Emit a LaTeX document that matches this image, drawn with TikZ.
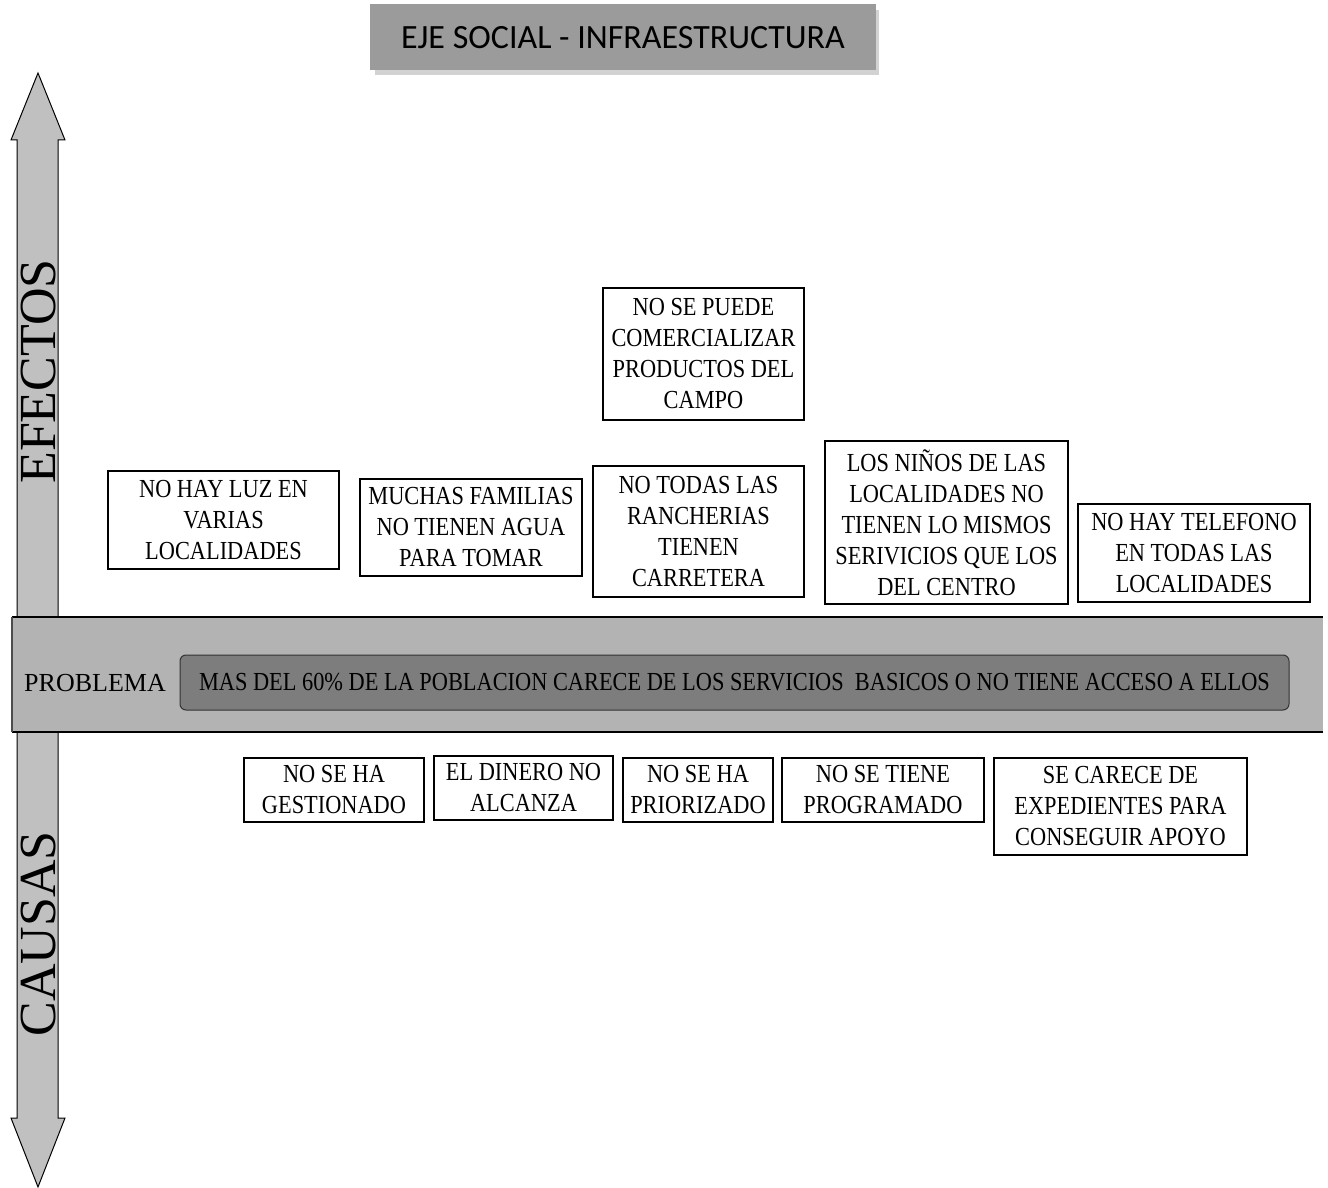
\documentclass[tikz,border=0pt]{standalone}
\usepackage{fontspec}
\setmainfont{Liberation Serif}
\newfontfamily\cajafont{Liberation Serif}[FakeStretch=0.86]
\newfontfamily\barrafont{Liberation Serif}[FakeStretch=0.86]
\newfontfamily\titulofont{Carlito}
\usetikzlibrary{positioning}
\definecolor{color1}{RGB}{155,155,155}
\definecolor{color2}{RGB}{192,192,192}
\definecolor{color3}{RGB}{179,179,179}
\definecolor{color4}{RGB}{125,125,125}
\tikzset{
  caja/.style={draw, line width=1.6pt, align=center, inner sep=0pt, font=\cajafont\fontsize{26}{31}\selectfont},
  eje/.style={rotate=90, inner sep=0pt, font=\fontsize{52}{52}\selectfont}
}
\begin{document}
\begin{tikzpicture}[x=1pt, y=-1pt, line join=miter]
                \useasboundingbox (0,0) rectangle (1328,1188);

                % titulo
                \fill [gray!35] (375,10) rectangle (879,75);
                \node[fill=color1, minimum width=506, minimum height=66, inner sep=0pt, font=\titulofont\fontsize{34}{40}\selectfont] (titulo) at (623,37.5) {EJE SOCIAL - INFRAESTRUCTURA};

                % flecha vertical
                \filldraw [fill=color2, draw=black, line width=1pt] (38,73) -- (65,140) -- (58,140) -- (58,1118) -- (65,1118) -- (38,1187) -- (11,1118) -- (17,1118) -- (17,140) -- (11,140) -- cycle;
                \node[eje] (efectos) at (38.5,371.5) {EFECTOS};
                \node[eje] (causas) at (38.5,934) {CAUSAS};

                % barra del problema
                \fill [color3] (12,617) rectangle (1323,732);
                \draw [line width=2pt] (12,617) -- (1323,617);
                \draw [line width=2pt] (12,732) -- (1323,732);
                \draw [gray!60!black, line width=1.5pt] (12,617) -- (12,732);
                \node[font=\fontsize{26}{30}\selectfont] (prob) at (95,683) {PROBLEMA};
                \node[draw=black!80, line width=1pt, fill=color4, rounded corners=6pt, minimum width=1109, minimum height=55, inner sep=0pt, font=\barrafont\fontsize{26}{30}\selectfont] (problema) at (734.5,682.5) {MAS DEL 60\% DE LA POBLACION CARECE DE LOS SERVICIOS\ \ BASICOS O NO TIENE ACCESO A ELLOS};

                % efectos
                \node[caja, minimum width=231, minimum height=98] (luz) at (223.5,520) {NO HAY LUZ EN\\VARIAS\\LOCALIDADES};
                \node[caja, minimum width=222, minimum height=97] (agua) at (471,527.5) {MUCHAS FAMILIAS\\NO TIENEN AGUA\\PARA TOMAR};
                \node[caja, minimum width=201, minimum height=132] (campo) at (703.5,354) {NO SE PUEDE\\COMERCIALIZAR\\PRODUCTOS DEL\\CAMPO};
                \node[caja, minimum width=211, minimum height=131] (carretera) at (698.5,531.5) {NO TODAS LAS\\RANCHERIAS\\TIENEN\\CARRETERA};
                \node[caja, minimum width=243, minimum height=163] (ninos) at (946.5,522.5) {LOS NIÑOS DE LAS\\LOCALIDADES NO\\TIENEN LO MISMOS\\SERIVICIOS QUE LOS\\DEL CENTRO};
                \node[caja, minimum width=232, minimum height=98] (telefono) at (1194,553) {NO HAY TELEFONO\\EN TODAS LAS\\LOCALIDADES};

                % causas
                \node[caja, minimum width=180, minimum height=64] (gestion) at (334,790) {NO SE HA\\GESTIONADO};
                \node[caja, minimum width=179, minimum height=64] (dinero) at (523.5,788) {EL DINERO NO\\ALCANZA};
                \node[caja, minimum width=150, minimum height=64] (prioridad) at (698,790) {NO SE HA\\PRIORIZADO};
                \node[caja, minimum width=202, minimum height=64] (programa) at (883,790) {NO SE TIENE\\PROGRAMADO};
                \node[caja, minimum width=253, minimum height=97] (expedientes) at (1120.5,806.5) {SE CARECE DE\\EXPEDIENTES PARA\\CONSEGUIR APOYO};
\end{tikzpicture}
\end{document}
